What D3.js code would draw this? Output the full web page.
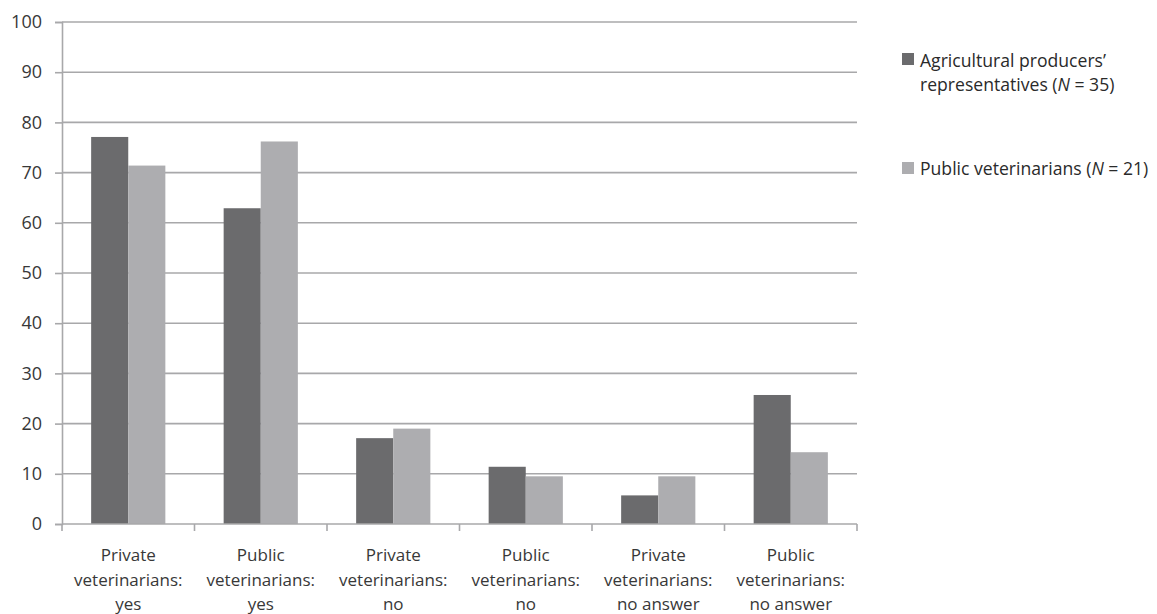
<!DOCTYPE html>
<html><head><meta charset="utf-8">
<script src="https://cdn.jsdelivr.net/npm/d3@7"></script>
<style>body{margin:0;background:#fff}svg text{font-family:"Open Sans",sans-serif}</style>
</head><body><svg id="c" width="1157" height="614"></svg>
<script>
const categories = [
  ["Private", "veterinarians:", "yes"],
  ["Public", "veterinarians:", "yes"],
  ["Private", "veterinarians:", "no"],
  ["Public", "veterinarians:", "no"],
  ["Private", "veterinarians:", "no answer"],
  ["Public", "veterinarians:", "no answer"]
];
const seriesNames = ["producers", "vets"];
const producers = [77.1, 62.9, 17.1, 11.4, 5.7, 25.7];
const vets = [71.4, 76.2, 19.0, 9.5, 9.5, 14.3];
const yTicks = [0,10,20,30,40,50,60,70,80,90,100];
const colors = ["#6b6b6d", "#adadb0"];

const svg = d3.select("#c");
const m = {l:62, r:857, t:22, b:524};
const x = d3.scaleBand().domain(d3.range(categories.length)).range([m.l, m.r]).paddingInner(0.44).paddingOuter(0.22);
const xs = d3.scaleBand().domain(seriesNames).range([0, x.bandwidth()]);
const y = d3.scaleLinear().domain([0,100]).range([m.b, m.t]);
const gridCol = "#a8a8aa";

// gridlines
svg.append("g").selectAll("line").data(yTicks.filter(t=>t>0)).join("line")
  .attr("x1", m.l).attr("x2", m.r).attr("y1", d=>y(d)).attr("y2", d=>y(d))
  .attr("stroke", gridCol).attr("stroke-width", 1.6);

// bars
const data = [producers, vets];
const cats = d3.range(categories.length);
seriesNames.forEach((s, si) => {
  svg.append("g").selectAll("rect").data(cats).join("rect")
    .attr("x", i => x(i) + xs(s))
    .attr("width", xs.bandwidth())
    .attr("y", i => y(data[si][i]))
    .attr("height", i => y(0) - y(data[si][i]))
    .attr("fill", colors[si]);
});

// y axis
const ya = d3.axisLeft(y).tickValues(yTicks).tickSize(7).tickPadding(13);
const yg = svg.append("g").attr("transform", `translate(${m.l},0)`).call(ya);
yg.select(".domain").attr("stroke", gridCol).attr("stroke-width", 1.6);
yg.selectAll(".tick line").attr("stroke", gridCol).attr("stroke-width", 1.6);
yg.selectAll(".tick text").attr("font-size", 18).attr("fill", "#383838").attr("font-family", '"Open Sans",sans-serif');

// x axis
svg.append("line").attr("x1", m.l).attr("x2", m.r).attr("y1", y(0)).attr("y2", y(0)).attr("stroke", gridCol).attr("stroke-width", 1.6);
const bounds = d3.range(categories.length + 1).map(i => m.l + i * (m.r - m.l) / categories.length);
svg.append("g").selectAll("line").data(bounds).join("line")
  .attr("x1", d=>d).attr("x2", d=>d).attr("y1", y(0)).attr("y2", y(0)+7)
  .attr("stroke", gridCol).attr("stroke-width", 1.6);
const xl = svg.append("g").selectAll("text").data(cats).join("text")
  .attr("x", i => x(i) + x.bandwidth()/2).attr("y", 561)
  .attr("text-anchor", "middle").attr("font-size", 17).attr("fill", "#383838");
xl.each(function(i){
  const t = d3.select(this);
  categories[i].forEach((line, k) => {
    t.append("tspan").attr("x", x(i) + x.bandwidth()/2).attr("dy", k === 0 ? 0 : 24.5).text(line);
  });
});

// legend
const leg = svg.append("g");
const fs = 17.6;
leg.append("rect").attr("x", 902).attr("y", 53).attr("width", 12).attr("height", 12).attr("fill", colors[0]);
leg.append("text").attr("x", 920).attr("y", 67).attr("font-size", fs).attr("fill", "#2a2a2a").text("Agricultural producers’");
const t1b = leg.append("text").attr("x", 920).attr("y", 91).attr("font-size", fs).attr("fill", "#2a2a2a");
t1b.append("tspan").text("representatives (");
t1b.append("tspan").attr("font-style", "italic").text("N");
t1b.append("tspan").text(" = 35)");
leg.append("rect").attr("x", 902).attr("y", 162).attr("width", 12).attr("height", 12).attr("fill", colors[1]);
const t2 = leg.append("text").attr("x", 920).attr("y", 175).attr("font-size", fs).attr("fill", "#2a2a2a");
t2.append("tspan").text("Public veterinarians (");
t2.append("tspan").attr("font-style", "italic").text("N");
t2.append("tspan").text(" = 21)");
</script></body></html>
